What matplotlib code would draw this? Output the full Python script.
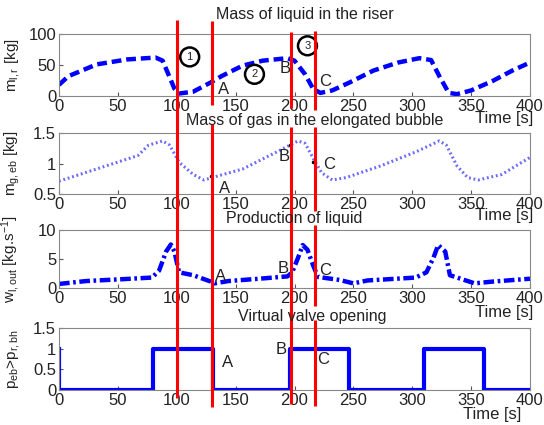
import matplotlib
matplotlib.use('Agg')
import matplotlib.pyplot as plt
from matplotlib.ticker import FormatStrFormatter

plt.rcParams['font.family'] = ['Liberation Sans', 'DejaVu Sans']
plt.rcParams['mathtext.fontset'] = 'custom'
plt.rcParams['mathtext.rm'] = 'Liberation Sans'
plt.rcParams['mathtext.it'] = 'Liberation Sans'

# mass of liquid in the riser
t_ml = [0, 8, 32, 58, 82, 88, 94, 98, 102, 114, 129, 138, 156, 173, 194, 200, 209, 216, 222,
        232, 247, 267, 288, 306, 316, 323, 331, 338, 350, 368, 385, 400]
m_lr = [18, 32, 51, 59, 62, 57, 30, 12, 4, 7, 22, 32, 49, 57, 61, 57, 35, 11, 5,
        9, 22, 41, 54, 61, 58, 32, 5, 3, 9, 24, 41, 54]

# mass of gas in the elongated bubble
t_mg = [0, 67, 76, 88, 94, 102, 114, 123, 132, 156, 185, 203, 209, 216, 223, 232, 244, 273,
        303, 323, 329, 338, 347, 356, 376, 400]
m_geb = [0.71, 1.13, 1.30, 1.37, 1.30, 1.02, 0.82, 0.73, 0.78, 0.91, 1.19, 1.37, 1.33, 1.08,
         0.85, 0.73, 0.77, 0.96, 1.19, 1.37, 1.30, 0.96, 0.77, 0.73, 0.82, 1.10]

# liquid production
t_w = [0, 23, 52, 79, 85, 91, 95, 98, 102, 114, 129, 132, 144, 170, 194, 198, 203, 207, 211,
       216, 220, 238, 250, 262, 303, 312, 318, 322, 328, 332, 341, 353, 368, 400]
w_lout = [0.7, 1.2, 1.5, 1.8, 3.0, 6.3, 7.5, 6.3, 2.7, 2.2, 1.1, 0.8, 1.2, 1.6, 2.0, 2.7, 5.2,
          7.4, 6.6, 3.8, 1.9, 1.4, 0.8, 1.3, 1.8, 2.7, 5.2, 7.4, 6.3, 2.2, 1.6, 0.8, 1.1, 1.6]

# virtual valve opening (step)
t_v = [0, 0, 80, 80, 131, 131, 196, 196, 246, 246, 310, 310, 361, 361, 400]
valve = [1, 0, 0, 1, 1, 0, 0, 1, 1, 0, 0, 1, 1, 0, 0]

# marker points on gas mass
t_pts = [129, 196, 216]
m_pts = [0.79, 1.31, 1.03]

red_t = [100, 130, 197, 217]

blue = '#0000ff'
W, H = 544, 425
fig = plt.figure(figsize=(W / 100, H / 100), dpi=100)

left, right = 59, 530
rows = [(34, 96), (133, 194), (230, 288), (328, 390)]
axes = []
for top, bot in rows:
    ax = fig.add_axes([left / W, 1 - bot / H, (right - left) / W, (bot - top) / H])
    axes.append(ax)

ax1, ax2, ax3, ax4 = axes
ax1.plot(t_ml, m_lr, color=blue, lw=3.2, dashes=(2.2, 1.1))
ax2.plot(t_mg, m_geb, color='#6a6aff', lw=2.2, dashes=(0.6, 0.9))
ax2.plot(t_pts, m_pts, 'k.', ms=3)
ax3.plot(t_w, w_lout, color=blue, lw=3.2, dashes=(2.4, 0.8, 0.6, 0.8))
ax4.plot(t_v, valve, color=blue, lw=3)

ax1.set_ylim(0, 100); ax1.set_yticks([0, 50, 100])
ax2.set_ylim(0.5, 1.5); ax2.set_yticks([0.5, 1, 1.5])
ax3.set_ylim(0, 10); ax3.set_yticks([0, 5, 10])
ax4.set_ylim(0, 1.5); ax4.set_yticks([0, 0.5, 1, 1.5])

ylabels = ['m$_{l,r}$ [kg]', 'm$_{g,eb}$ [kg]', 'w$_{l,out}$ [kg.s$^{-1}$]', 'p$_{eb}$>p$_{r,bh}$']
for ax, lab in zip(axes, ylabels):
    ax.set_xlim(0, 400)
    ax.set_xticks(range(0, 401, 50))
    ax.yaxis.set_major_formatter(FormatStrFormatter('%g'))
    ax.tick_params(direction='in', length=3, width=0.8, colors='#555555',
                   labelcolor='#222222', labelsize=12, pad=2)
    for s in ax.spines.values():
        s.set_color('#888888')
    ax.set_ylabel(lab, fontsize=11, color='#222222', labelpad=1)
    ax.yaxis.set_label_coords(-0.078, 0.5)

# titles and time labels
titles = ['Mass of liquid in the riser', 'Mass of gas in the elongated bubble',
          'Production of liquid', 'Virtual valve opening']
title_pos = [(305, 15), (315, 121), (294, 219), (312, 316)]
for txt, (x, y) in zip(titles, title_pos):
    fig.text(x / W, 1 - y / H, txt, ha='center', va='center', fontsize=11.5, color='#222222')
for y in [118, 216, 313]:
    fig.text(533 / W, 1 - y / H, 'Time [s]', ha='right', va='center', fontsize=12, color='#222222')
fig.text(492 / W, 1 - 415 / H, 'Time [s]', ha='center', va='center', fontsize=12, color='#222222')

# A, B, C labels
letters = {
    ax1: [(140, 11), (192, 45), (226, 24)],
    ax2: [(141, 0.59), (191, 1.11), (229, 0.99)],
    ax3: [(137, 1.9), (190, 3.3), (226, 3.1)],
    ax4: [(143, 0.67), (189, 0.97), (224, 0.75)],
}
for ax, pts in letters.items():
    for (x, y), ch in zip(pts, 'ABC'):
        ax.text(x, y, ch, ha='center', va='center', fontsize=12, color='#222222')

for (x, y), n in zip([(111, 63), (166, 35), (211, 81)], ['1', '2', '3']):
    ax1.text(x, y, n, ha='center', va='center', fontsize=8, color='#222222',
             bbox=dict(boxstyle='circle,pad=0.4', fc='none', ec='black', lw=1.8))

# red vertical lines over the whole figure
ov = fig.add_axes([left / W, 0, (right - left) / W, 1])
ov.set_xlim(0, 400)
ov.set_ylim(H, 0)
ov.axis('off')
segs = [
    [(20, 398)],
    [(21, 105), (124, 407)],
    [(32, 108), (127, 404)],
    [(31, 110), (127, 211), (225, 306), (320, 406)],
]
for t, ss in zip(red_t, segs):
    for y0, y1 in ss:
        ov.plot([t, t], [y0, y1], color='#ff0000', lw=2.2, solid_capstyle='butt')

fig.savefig('out.png', dpi=100)
